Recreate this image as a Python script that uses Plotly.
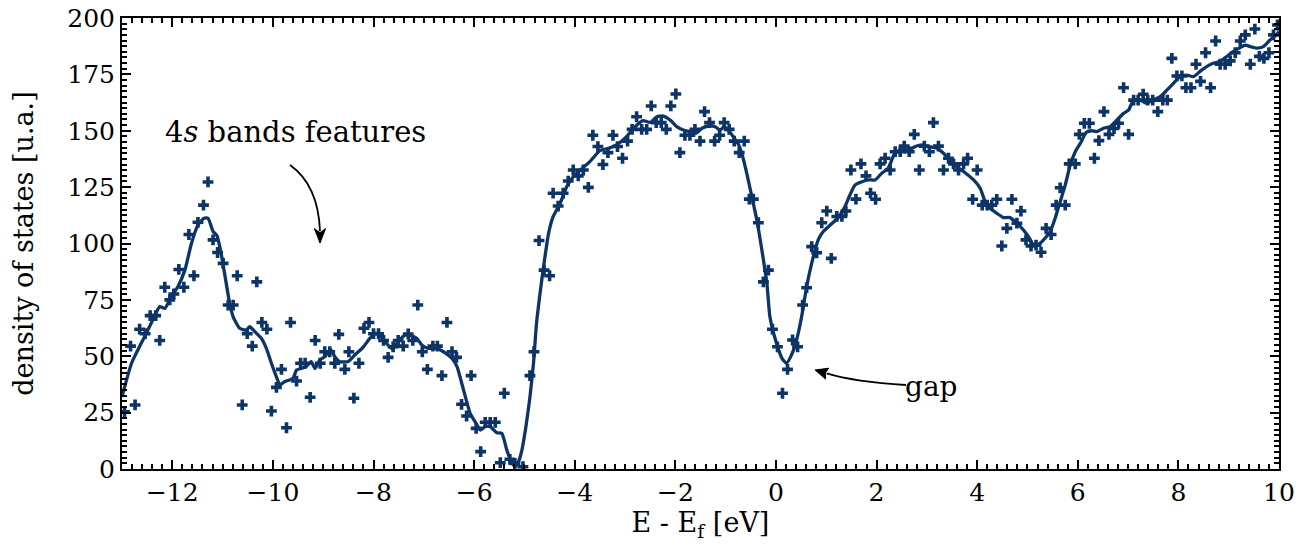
import plotly.graph_objects as go

# scattered DOS samples
dos_x = [-12.95, -12.83, -12.74, -12.65, -12.54, -12.44, -12.33, -12.25, -12.15, -12.05,
         -11.97, -11.87, -11.77, -11.67, -11.57, -11.49, -11.38, -11.29, -11.19, -11.10,
         -10.99, -10.89, -10.79, -10.71, -10.61, -10.51, -10.41, -10.32, -10.22, -10.12,
         -10.03, -9.93, -9.83, -9.73, -9.65, -9.53, -9.45, -9.36, -9.26, -9.16,
         -9.06, -8.97, -8.87, -8.77, -8.69, -8.57, -8.49, -8.39, -8.29, -8.19,
         -8.09, -8.00, -7.90, -7.80, -7.71, -7.61, -7.51, -7.41, -7.31, -7.22,
         -7.12, -7.03, -6.93, -6.82, -6.73, -6.64, -6.54, -6.44, -6.35, -6.25,
         -6.15, -6.06, -5.96, -5.87, -5.78, -5.68, -5.58, -5.48, -5.40, -5.29,
         -5.19, -5.03, -4.89, -4.81, -4.71, -4.61, -4.50, -4.43, -4.33, -4.23,
         -4.13, -4.03, -3.93, -3.83, -3.73, -3.64, -3.54, -3.44, -3.34, -3.24,
         -3.15, -3.05, -2.95, -2.86, -2.77, -2.67, -2.57, -2.48, -2.38, -2.28,
         -2.18, -2.09, -1.99, -1.91, -1.81, -1.71, -1.61, -1.51, -1.42, -1.32,
         -1.22, -1.12, -1.03, -0.93, -0.83, -0.73, -0.63, -0.53, -0.45, -0.35,
         -0.25, -0.15, -0.07, 0.03, 0.13, 0.23, 0.33, 0.43, 0.53, 0.61,
         0.71, 0.81, 0.91, 1.01, 1.10, 1.21, 1.31, 1.39, 1.49, 1.59,
         1.69, 1.79, 1.88, 1.98, 2.07, 2.17, 2.27, 2.37, 2.47, 2.55,
         2.65, 2.75, 2.85, 2.95, 3.05, 3.13, 3.23, 3.33, 3.43, 3.53,
         3.63, 3.73, 3.81, 3.91, 4.00, 4.10, 4.20, 4.29, 4.39, 4.49,
         4.59, 4.69, 4.79, 4.87, 4.97, 5.07, 5.17, 5.27, 5.37, 5.47,
         5.57, 5.65, 5.75, 5.83, 5.95, 6.03, 6.13, 6.23, 6.33, 6.42,
         6.52, 6.62, 6.72, 6.81, 6.91, 7.01, 7.11, 7.20, 7.30, 7.39,
         7.49, 7.59, 7.69, 7.78, 7.87, 7.97, 8.07, 8.15, 8.25, 8.35,
         8.44, 8.54, 8.64, 8.74, 8.83, 8.93, 9.03, 9.13, 9.23, 9.33,
         9.43, 9.52, 9.61, 9.70, 9.80, 9.89, 9.97]
dos_y = [25.4, 54.5, 28.4, 62, 60, 68, 68, 57, 80.6, 75,
         77.6, 88.5, 80.6, 104, 85.7, 109.4, 117, 127.3, 101.6, 96,
         91.2, 72.7, 72.7, 85.7, 28.4, 60, 54.5, 83, 65, 62,
         25.7, 36.2, 44.2, 18.3, 65, 39, 46.9, 46.9, 31.8, 57,
         46.9, 52, 52, 46.9, 59.7, 44.2, 52, 31.4, 46.9, 62.4,
         65, 60, 60, 57, 49.5, 54.2, 57, 54.5, 59.9, 57,
         72.7, 52, 44.2, 54.5, 54.5, 41.4, 65, 52, 49.5, 28.7,
         23.5, 41.4, 18, 7.7, 20.7, 20.7, 20.7, 2.8, 33.6, 4.3,
         2.5, 1, 41.4, 52, 101.3, 88.2, 85.7, 122.3, 116.6, 122.3,
         127.7, 132.6, 130, 132.6, 124.9, 148, 143, 135, 140.3, 148,
         143, 137.8, 145.4, 150.6, 156.2, 150.6, 150.6, 161, 153.6, 153.6,
         150.6, 161, 166.3, 140.3, 148, 148, 150.6, 145.4, 158.5, 153.6,
         145.4, 148, 153.6, 150.6, 145.4, 140.3, 145.4, 119.7, 119.7, 109.2,
         83, 88.2, 62, 54.2, 33.6, 44.2, 57.2, 54.2, 72.7, 80.4,
         98.6, 95.9, 109.2, 114.4, 93.4, 112, 112, 114.4, 132.6, 119.7,
         135.3, 130, 122.3, 119.6, 135.3, 137.8, 132.6, 140.7, 140.7, 143.2,
         140.7, 148.4, 132.6, 143.2, 140.7, 153.6, 143.2, 132.6, 137.8, 135.3,
         132.6, 135.3, 137.8, 119.6, 132.6, 117, 117, 117, 119.6, 98.9,
         106.7, 119.6, 109, 114.4, 101.6, 98.9, 99.3, 96.1, 106.7, 104,
         117, 124.7, 117, 135.3, 135.3, 148.4, 153.3, 153.3, 137.8, 145.6,
         158.5, 148.4, 151, 153.3, 169.1, 148.4, 163.6, 163.6, 166.2, 163.6,
         163.6, 158.5, 163.6, 163.6, 182.1, 174.3, 174.3, 169.1, 169.1, 179.5,
         171.9, 184.6, 169.1, 189.8, 179.5, 179.5, 181, 184.6, 189.8, 192.5,
         179.5, 195.1, 183, 182.1, 184.6, 192.5, 196.9]

# smoothed DOS curve
fit_x = [-13.0, -12.81, -12.55, -12.42, -12.25, -12.15, -12.02, -11.89, -11.75, -11.62,
         -11.49, -11.37, -11.29, -11.19, -11.11, -11.03, -10.95, -10.86, -10.79, -10.66,
         -10.53, -10.46, -10.36, -10.23, -10.13, -10.03, -9.93, -9.86, -9.77, -9.67,
         -9.60, -9.53, -9.44, -9.34, -9.24, -9.16, -9.07, -8.97, -8.85, -8.77,
         -8.67, -8.51, -8.37, -8.20, -8.07, -7.97, -7.87, -7.74, -7.62, -7.51,
         -7.37, -7.24, -7.14, -7.04, -6.91, -6.74, -6.61, -6.44, -6.34, -6.21,
         -6.08, -5.96, -5.88, -5.78, -5.68, -5.55, -5.45, -5.35, -5.29, -5.19,
         -5.12, -5.05, -4.97, -4.89, -4.82, -4.76, -4.69, -4.62, -4.52, -4.43,
         -4.29, -4.16, -4.03, -3.83, -3.70, -3.50, -3.33, -3.17, -2.97, -2.80,
         -2.64, -2.50, -2.37, -2.24, -2.09, -1.97, -1.84, -1.71, -1.57, -1.47,
         -1.34, -1.21, -1.11, -1.03, -0.95, -0.85, -0.75, -0.68, -0.58, -0.48,
         -0.38, -0.28, -0.18, -0.12, 0.00, 0.12, 0.21, 0.31, 0.41, 0.51,
         0.61, 0.71, 0.84, 0.94, 1.08, 1.24, 1.37, 1.47, 1.57, 1.71,
         1.84, 1.97, 2.10, 2.23, 2.37, 2.50, 2.64, 2.77, 2.90, 3.03,
         3.20, 3.33, 3.46, 3.63, 3.76, 3.93, 4.06, 4.16, 4.26, 4.39,
         4.52, 4.65, 4.79, 4.92, 5.02, 5.12, 5.20, 5.32, 5.45, 5.55,
         5.65, 5.75, 5.85, 5.95, 6.05, 6.17, 6.28, 6.38, 6.51, 6.64,
         6.78, 6.91, 7.01, 7.11, 7.24, 7.37, 7.50, 7.64, 7.77, 7.90,
         8.03, 8.16, 8.30, 8.43, 8.56, 8.69, 8.83, 8.96, 9.09, 9.23,
         9.33, 9.43, 9.56, 9.69, 9.82, 9.95, 10.0]
fit_y = [32, 46.9, 58.7, 64.6, 72, 71.2, 76.4, 80.8, 88.2, 100,
         108.2, 111.2, 111.2, 105.4, 103.3, 95.7, 85.3, 73.5, 67.5, 62.4,
         61.6, 63.1, 60.9, 58, 53.5, 46.9, 40.9, 37.2, 38.7, 39.5,
         40.2, 43.9, 44.6, 45.4, 47.6, 44.6, 48.3, 49.8, 52.8, 49.8,
         47.6, 47.6, 50.6, 54.2, 58, 60.2, 59.4, 55.7, 53.1, 56.5,
         59.4, 59, 58, 55, 53.5, 53.5, 52, 49.1, 45.4, 35,
         24.7, 20.2, 17.3, 18.8, 18.8, 16.1, 15.8, 8.4, 4.7, 1,
         3.2, 8.4, 18.8, 32, 46.9, 64.6, 77.9, 89.7, 104.5, 111.9,
         117.8, 125.2, 129.6, 133.7, 136.3, 141.2, 142.2, 143.7, 147.4, 151.8,
         154.5, 153.7, 156.2, 156.5, 154.5, 151.8, 150.3, 149.6, 149.1, 151.1,
         152.1, 151.8, 150.3, 151.8, 150.3, 147.4, 144.1, 140, 131.1, 120.8,
         110.4, 97.1, 82.3, 67.5, 56.5, 49.1, 46.9, 50.6, 57.2, 67.5,
         80.8, 91.2, 101.6, 105.3, 108.2, 111.6, 116.3, 121.5, 125.9, 127.4,
         128.2, 128.2, 131.1, 133.4, 140.3, 141.5, 141.5, 143, 143.7, 143,
         142.2, 140, 137, 133.4, 131.4, 128.2, 124.5, 118.5, 115.6, 113.4,
         111.5, 111.5, 109, 106, 103, 99.3, 99.3, 101.6, 105.3, 111.2,
         118.5, 125.9, 134.8, 140.7, 144.4, 149.3, 150, 149.6, 151.1, 151.8,
         154.8, 157.7, 159.2, 163.6, 163.6, 162.2, 163.6, 165.1, 168, 171,
         174, 174.7, 174, 176.3, 178.4, 179.9, 180.7, 182.9, 185.1, 186.9,
         188, 187.3, 186.6, 187.3, 190.2, 192.5, 194]

x_ticks = [-12, -10, -8, -6, -4, -2, 0, 2, 4, 6, 8, 10]
y_ticks = [0, 25, 50, 75, 100, 125, 150, 175, 200]

navy = "#0c3466"
serif = "DejaVu Serif"

fig = go.Figure()
fig.add_trace(go.Scatter(x=dos_x, y=dos_y, mode="markers",
                         marker=dict(symbol="cross", size=9, color=navy, line=dict(width=0)),
                         showlegend=False))
fig.add_trace(go.Scatter(x=fit_x, y=fit_y, mode="lines",
                         line=dict(color=navy, width=3.3, shape="spline", smoothing=0.5),
                         showlegend=False))

# curved arrows (body + filled head)
arrow_line = dict(color="black", width=1.8)
fig.add_shape(type="path", xref="x", yref="y",
              path="M -9.66,134.8 Q -9.10,125.9 -9.064,105.5", line=arrow_line)
fig.add_shape(type="path", xref="x", yref="y",
              path="M -9.064,100.2 L -9.175,106.6 L -9.064,104.8 L -8.953,106.6 Z",
              line=dict(color="black", width=1), fillcolor="black")
fig.add_shape(type="path", xref="x", yref="y",
              path="M 2.586,37.25 Q 1.57,38.6 1.006,42.39", line=arrow_line)
fig.add_shape(type="path", xref="x", yref="y",
              path="M 0.777,43.9 L 1.05,44.7 L 0.98,42.6 L 0.985,39.9 Z",
              line=dict(color="black", width=1), fillcolor="black")

fig.add_annotation(x=-9.55, y=149.5, xref="x", yref="y", showarrow=False,
                   text="4<i>s</i> bands features", font=dict(family=serif, size=29, color="black"))
fig.add_annotation(x=3.1, y=36.5, xref="x", yref="y", showarrow=False,
                   text="gap", font=dict(family=serif, size=28, color="black"))

axis_common = dict(showline=True, linecolor="black", linewidth=2, mirror="allticks",
                   ticks="inside", ticklen=9, tickwidth=2, tickcolor="black",
                   showgrid=False, zeroline=False, automargin=False,
                   ticklabeloverflow="allow",
                   tickfont=dict(family=serif, size=25, color="black"))

fig.update_xaxes(range=[-13, 10], tickvals=x_ticks,
                 minor=dict(dtick=0.2, ticks="inside", ticklen=5, tickwidth=1.5, tickcolor="black"),
                 title=dict(text="E - E<sub>f</sub> [eV]", font=dict(family=serif, size=27, color="black"),
                            standoff=6),
                 **axis_common)
fig.update_yaxes(range=[0, 200], tickvals=y_ticks,
                 minor=dict(dtick=2.5, ticks="inside", ticklen=5, tickwidth=1.5, tickcolor="black"),
                 title=dict(text="density of states [u.a.]", font=dict(family=serif, size=27, color="black"),
                            standoff=26),
                 **axis_common)

# the page body adds an 8px margin, so the figure is 8px smaller than the window
fig.update_layout(width=1302, height=538, plot_bgcolor="white", paper_bgcolor="white",
                  margin=dict(l=114, r=31, t=10, b=77, autoexpand=False),
                  font=dict(family=serif, color="black"))

fig.write_html("out.html")
